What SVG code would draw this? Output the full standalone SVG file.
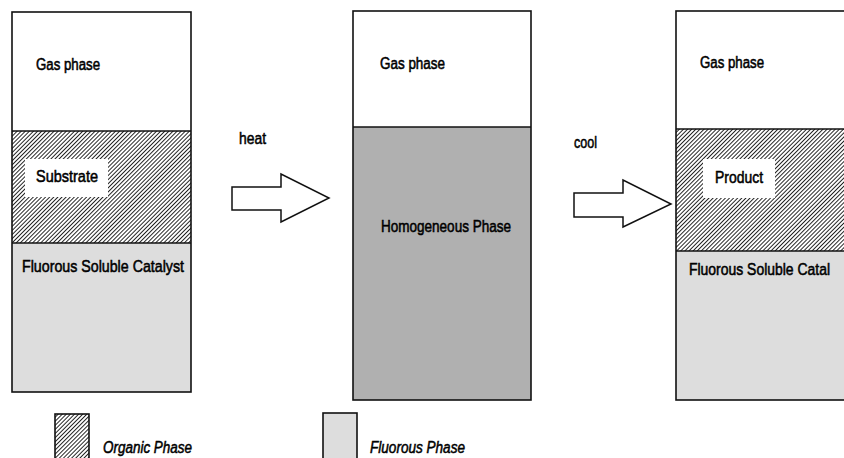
<svg xmlns="http://www.w3.org/2000/svg" width="844" height="458" viewBox="0 0 844 458">
  <defs>
    <!-- dense diagonal hatching used for the organic phase -->
    <pattern id="hatch" width="2.9" height="2.9" patternUnits="userSpaceOnUse" patternTransform="rotate(45)">
      <rect width="2.9" height="2.9" fill="#ffffff"/>
      <line x1="0" y1="0" x2="0" y2="2.9" stroke="#111" stroke-width="1.8"/>
    </pattern>
  </defs>
  <style>
    .frame { fill: none; stroke: #111; stroke-width: 1.6; }
    .gas { fill: #ffffff; }
    .org { fill: url(#hatch); }
    .fluo { fill: #dddddd; }
    .homo { fill: #b0b0b0; }
    .sep { stroke: #111; stroke-width: 1.4; }
    .arrow { fill: #ffffff; stroke: #111; stroke-width: 1.5; stroke-linejoin: miter; }
    text { font-family: "Liberation Sans", Arial, sans-serif; fill: #000; stroke: #000; stroke-width: 0.55; }
    .it { font-style: italic; }
  </style>
  <rect width="844" height="458" fill="#ffffff"/>

  <!-- before heating -->
  <g id="vessel-start">
    <rect class="gas" x="12" y="12" width="179" height="119"/>
    <rect class="org" x="12" y="131" width="179" height="112"/>
    <rect class="fluo" x="12" y="243" width="179" height="149"/>
    <line class="sep" x1="12" y1="131" x2="191" y2="131"/>
    <line class="sep" x1="12" y1="243" x2="191" y2="243"/>
    <rect class="frame" x="12" y="12" width="179" height="380"/>
    <text x="36" y="70" font-size="16" textLength="64" lengthAdjust="spacingAndGlyphs">Gas phase</text>
    <rect class="gas" x="25" y="159" width="83" height="38"/>
    <text x="36" y="182" font-size="17" textLength="62" lengthAdjust="spacingAndGlyphs">Substrate</text>
    <text x="22" y="272" font-size="17" textLength="162" lengthAdjust="spacingAndGlyphs">Fluorous Soluble Catalyst</text>
  </g>

  <!-- heated, single phase -->
  <g id="vessel-hot">
    <rect class="gas" x="353" y="11" width="178" height="116"/>
    <rect class="homo" x="353" y="127" width="178" height="273"/>
    <line class="sep" x1="353" y1="127" x2="531" y2="127"/>
    <rect class="frame" x="353" y="11" width="178" height="389"/>
    <text x="380" y="69" font-size="16" textLength="65" lengthAdjust="spacingAndGlyphs">Gas phase</text>
    <text x="381" y="232" font-size="17" textLength="130" lengthAdjust="spacingAndGlyphs">Homogeneous Phase</text>
  </g>

  <!-- cooled, phases separated again -->
  <g id="vessel-cooled">
    <rect class="gas" x="676" y="11" width="180" height="118"/>
    <rect class="org" x="676" y="129" width="180" height="122"/>
    <rect class="fluo" x="676" y="251" width="180" height="149"/>
    <line class="sep" x1="676" y1="129" x2="856" y2="129"/>
    <line class="sep" x1="676" y1="251" x2="856" y2="251"/>
    <rect class="frame" x="676" y="11" width="180" height="389"/>
    <text x="700" y="68" font-size="16" textLength="64" lengthAdjust="spacingAndGlyphs">Gas phase</text>
    <rect class="gas" x="703" y="159" width="72" height="39"/>
    <text x="715" y="183" font-size="17" textLength="48" lengthAdjust="spacingAndGlyphs">Product</text>
    <text x="689" y="275" font-size="17" textLength="141" lengthAdjust="spacingAndGlyphs">Fluorous Soluble Catal</text>
  </g>

  <!-- transitions -->
  <g id="connectors">
    <g id="heat-step">
      <polygon class="arrow" points="232,187 281,187 281,174 329,198 281,222 281,210 232,210"/>
      <text x="239" y="144" font-size="17" textLength="27" lengthAdjust="spacingAndGlyphs">heat</text>
    </g>
    <g id="cool-step">
      <polygon class="arrow" points="574,193 623,193 623,180 671,204 623,227 623,217 574,217"/>
      <text x="574" y="148" font-size="17" textLength="23" lengthAdjust="spacingAndGlyphs">cool</text>
    </g>
  </g>

  <!-- key -->
  <g id="legend-organic">
    <rect class="org" x="55" y="414" width="34" height="50"/>
    <rect class="frame" x="55" y="414" width="34" height="50"/>
    <text class="it" x="103" y="453" font-size="17" textLength="89" lengthAdjust="spacingAndGlyphs">Organic Phase</text>
  </g>
  <g id="legend-fluorous">
    <rect class="fluo" x="323" y="413" width="34" height="50"/>
    <rect class="frame" x="323" y="413" width="34" height="50"/>
    <text class="it" x="370" y="453" font-size="17" textLength="95" lengthAdjust="spacingAndGlyphs">Fluorous Phase</text>
  </g>
</svg>
